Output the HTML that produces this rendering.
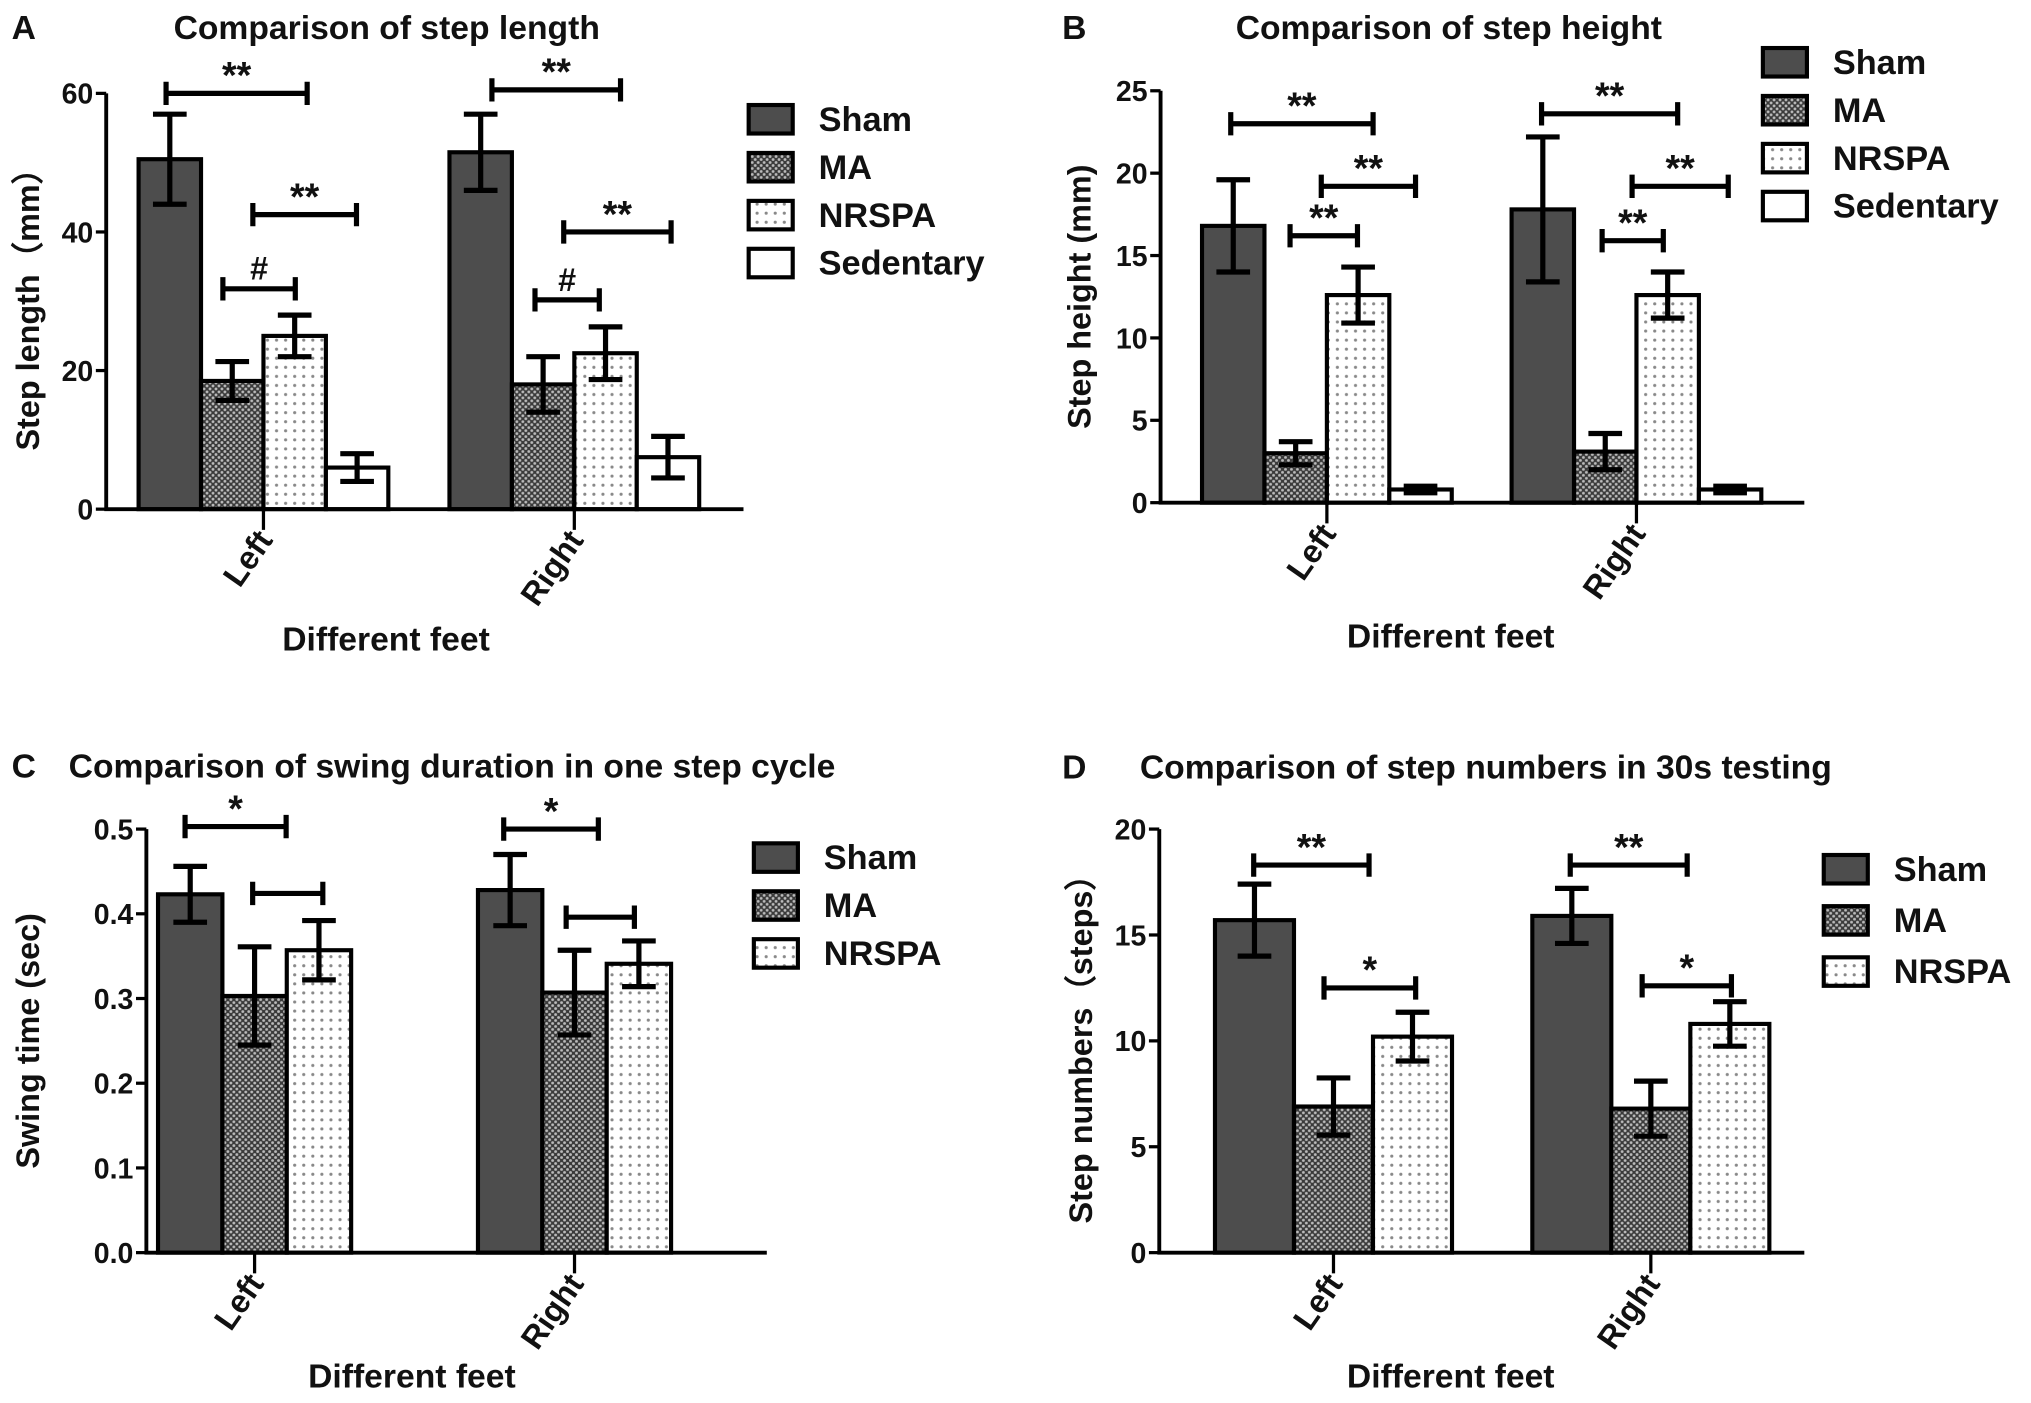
<!DOCTYPE html>
<html><head><meta charset="utf-8"><style>
html,body{margin:0;padding:0;background:#fff}
svg{display:block}
text{font-family:"Liberation Sans",Arial,sans-serif;font-weight:bold;fill:#111}
</style></head><body>
<svg id="fig" width="2031" height="1403" viewBox="0 0 1568 1083" xmlns="http://www.w3.org/2000/svg">
<defs>
<pattern id="pMA" width="4.6" height="4.6" patternUnits="userSpaceOnUse">
<rect width="4.6" height="4.6" fill="#3a3a3a"/><circle cx="1.15" cy="1.15" r="1.1" fill="#bbb"/><circle cx="3.45" cy="3.45" r="1.1" fill="#bbb"/></pattern>
<pattern id="pNR" width="7" height="7" patternUnits="userSpaceOnUse">
<rect width="7" height="7" fill="#fff"/><circle cx="3.5" cy="3.5" r="1.2" fill="#888"/></pattern>
</defs>
<g id="root"></g>
</svg>
<script>
// ---- data ----
const categories = ["Left", "Right"];
const groupsA = ["Sham", "MA", "NRSPA", "Sedentary"];
const groupsB = ["Sham", "MA", "NRSPA", "Sedentary"];
const groupsC = ["Sham", "MA", "NRSPA"];
const groupsD = ["Sham", "MA", "NRSPA"];
const valuesA = [[50.5, 18.5, 25.0, 6.0], [51.5, 18.0, 22.5, 7.5]];
const errorsA = [[6.5, 2.8, 3.0, 2.0], [5.5, 4.0, 3.8, 3.0]];
const valuesB = [[16.8, 3.0, 12.6, 0.8], [17.8, 3.1, 12.6, 0.8]];
const errorsB = [[2.8, 0.7, 1.7, 0.2], [4.4, 1.1, 1.4, 0.2]];
const valuesC = [[0.423, 0.303, 0.357], [0.428, 0.307, 0.341]];
const errorsC = [[0.033, 0.058, 0.035], [0.042, 0.050, 0.027]];
const valuesD = [[15.7, 6.9, 10.2], [15.9, 6.8, 10.8]];
const errorsD = [[1.7, 1.35, 1.15], [1.3, 1.3, 1.05]];
const ticksA = [0, 20, 40, 60];
const ticksB = [0, 5, 10, 15, 20, 25];
const ticksC = [0.0, 0.1, 0.2, 0.3, 0.4, 0.5];
const tickLabelsC = ["0.0", "0.1", "0.2", "0.3", "0.4", "0.5"];
const ticksD = [0, 5, 10, 15, 20];
// significance: [category index, from (bar index), to (bar index), y value, label]
const sigA = [[0,-0.06,2.2,60,"**"],[0,1.33,2.99,42.5,"**"],[0,0.85,2.01,31.8,"#"],[1,0.18,2.24,60.5,"**"],[1,1.33,3.05,40,"**"],[1,0.87,1.9,30.2,"#"]];
const sigB = [[0,-0.04,2.24,23,"**"],[0,1.41,2.92,19.2,"**"],[0,0.91,1.99,16.2,"**"],[1,-0.02,2.16,23.6,"**"],[1,1.43,2.97,19.2,"**"],[1,0.95,1.93,15.9,"**"]];
const sigC = [[0,-0.08,1.49,0.503,"*"],[0,0.97,2.06,0.424,""],[1,-0.1,1.37,0.50,"*"],[1,0.87,1.93,0.396,""]];
const sigD = [[0,-0.01,1.45,18.3,"**"],[0,0.88,2.04,12.5,"*"],[1,-0.02,1.46,18.3,"**"],[1,0.89,2.02,12.6,"*"]];

const fills = {Sham:"#4d4d4d", MA:"url(#pMA)", NRSPA:"url(#pNR)", Sedentary:"#fff"};
const NS = "http://www.w3.org/2000/svg";
const root = document.getElementById("root");
function mk(tag, attrs, parent, txt){
  const e = document.createElementNS(NS, tag);
  for (const k in attrs) e.setAttribute(k, attrs[k]);
  if (txt !== undefined) e.textContent = txt;
  (parent || root).appendChild(e);
  return e;
}

function panel(p){
  const g = mk("g", {});
  
  
  const ymax = p.ticks[p.ticks.length-1];
  const y = v => p.y0 - (v / ymax) * (p.y0 - p.yTop);
  const barX = (c, i) => p.groupStart[c] + i * p.bw;
  let t = mk("text", {x:p.letterX, y:p.titleY, "font-size":26}, g, p.id);
   
  t = mk("text", {x:p.titleX, y:p.titleY, "font-size":26}, g, p.title);
   
  categories.forEach((cat, c) => {
    p.groups.forEach((gr, i) => {
      const v = p.values[c][i], e = p.errors[c][i];
      const x = barX(c, i), xc = x + p.bw/2;
      const r = mk("rect", {x:x, y:y(v), width:p.bw, height:p.y0 - y(v), fill:fills[gr], stroke:"#000", "stroke-width":3.2}, g);
      
      
      const eb = mk("path", {d:`M${xc},${y(v+e)}V${y(v-e)}M${xc-13},${y(v+e)}H${xc+13}M${xc-13},${y(v-e)}H${xc+13}`, stroke:"#000", "stroke-width":4, fill:"none"}, g);
      
      
    });
  });
  const ax = mk("path", {d:`M${p.x0},${p.yTop}V${p.y0}H${p.xEnd}`, stroke:"#000", "stroke-width":3, fill:"none"}, g);
   
  p.ticks.forEach((tv, k) => {
    mk("line", {x1:p.x0-8, x2:p.x0, y1:y(tv), y2:y(tv), stroke:"#000", "stroke-width":2.5}, g);
    const tl = mk("text", {x:p.x0-10, y:y(tv)+8, "font-size":22, "text-anchor":"end"}, g, p.tickLabels ? p.tickLabels[k] : String(tv));
     
  });
  categories.forEach((cat, c) => {
    const cx = p.groupStart[c] + p.bw * p.groups.length / 2;
    mk("line", {x1:cx, x2:cx, y1:p.y0, y2:p.y0+16, stroke:"#000", "stroke-width":2.5}, g);
    const tl = mk("text", {x:0, y:0, "font-size":25, "text-anchor":"end", transform:`translate(${cx+8},${p.y0+24}) rotate(-55)`}, g, cat);
     
  });
  t = mk("text", {x:p.xTitleX, y:p.xTitleY, "font-size":26, "text-anchor":"middle"}, g, "Different feet");
   
  t = mk("text", {x:0, y:0, "font-size":25, "text-anchor":"middle", transform:`translate(${p.yTitleX},${(p.y0+p.yTop)/2}) rotate(-90)`}, g, p.ylabel);
   
  p.sig.forEach(s => {
    const xa = barX(s[0], s[1]) + p.bw/2, xb = barX(s[0], s[2]) + p.bw/2, yy = y(s[3]);
    const br = mk("path", {d:`M${xa},${yy-9}V${yy+9}M${xa},${yy}H${xb}M${xb},${yy-9}V${yy+9}`, stroke:"#000", "stroke-width":4, fill:"none"}, g);
     
    if (s[4]) {
      const st = mk("text", {x:(xa+xb)/2, y:yy-(s[4]==="#"?7:4), "font-size":s[4]==="#"?25:29, "text-anchor":"middle"}, g, s[4]);
       
    }
  });
  p.groups.forEach((gr, i) => {
    const ly = p.legY + i * p.legStep;
    const lg = mk("g", {}, g);
    
    
    mk("rect", {x:p.legX, y:ly-11, width:34, height:22, fill:fills[gr], stroke:"#000", "stroke-width":3.2}, lg);
    mk("text", {x:p.legX+54, y:ly+9, "font-size":26.5}, lg, gr);
  });
}

panel({id:"A", title:"Comparison of step length", letterX:9, titleX:134, titleY:30,
  groups:groupsA, values:valuesA, errors:errorsA, ticks:ticksA, sig:sigA,
  x0:82, xEnd:574, y0:393, yTop:72, groupStart:[107,347], bw:48.2,
  ylabel:"Step length（mm）", yTitleX:30, xTitleX:298, xTitleY:502,
  legX:578, legY:92, legStep:37});
panel({id:"B", title:"Comparison of step height", letterX:820, titleX:954, titleY:30,
  groups:groupsB, values:valuesB, errors:errorsB, ticks:ticksB, sig:sigB,
  x0:896, xEnd:1393, y0:388, yTop:70, groupStart:[928,1167], bw:48.2,
  ylabel:"Step height (mm)", yTitleX:842, xTitleX:1120, xTitleY:500,
  legX:1361, legY:48, legStep:37});
panel({id:"C", title:"Comparison of swing duration in one step cycle", letterX:9, titleX:53, titleY:600,
  groups:groupsC, values:valuesC, errors:errorsC, ticks:ticksC, tickLabels:tickLabelsC, sig:sigC,
  x0:113, xEnd:592, y0:967, yTop:640, groupStart:[122,369], bw:49.7,
  ylabel:"Swing time (sec)", yTitleX:30, xTitleX:318, xTitleY:1071,
  legX:582, legY:662, legStep:37});
panel({id:"D", title:"Comparison of step numbers in 30s testing", letterX:820, titleX:880, titleY:601,
  groups:groupsD, values:valuesD, errors:errorsD, ticks:ticksD, sig:sigD,
  x0:895, xEnd:1393, y0:967, yTop:640, groupStart:[938,1183], bw:61,
  ylabel:"Step numbers（steps）", yTitleX:843, xTitleX:1120, xTitleY:1071,
  legX:1408, legY:671, legStep:39.5});
</script>
</body></html>
